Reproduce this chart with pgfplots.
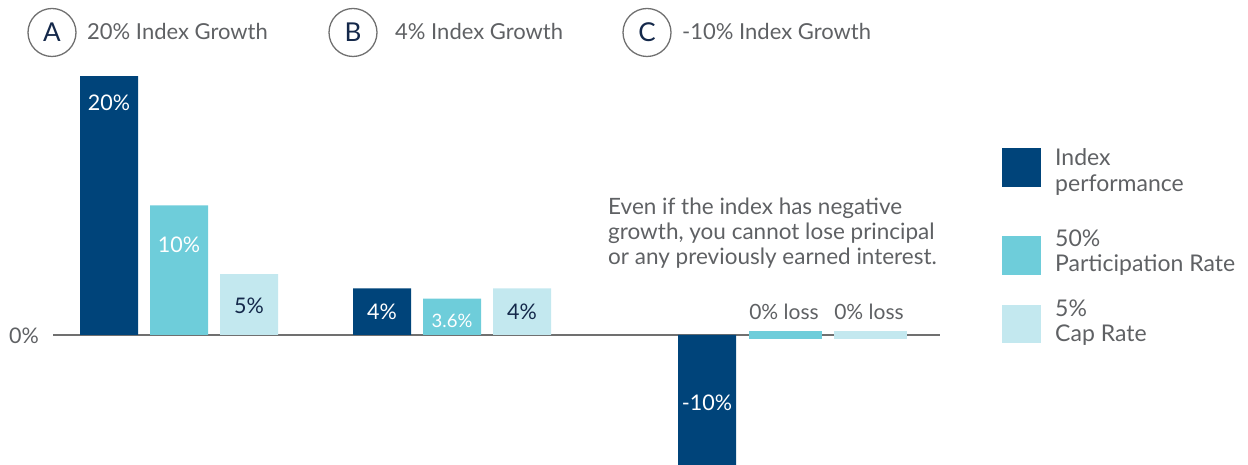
\documentclass[border=0pt]{standalone}
\usepackage{pgfplots}
\pgfplotsset{compat=1.18}
\usepackage{fontspec}
\setmainfont{Lato}
\definecolor{dk}{HTML}{00447A}
\definecolor{md}{HTML}{6ECDDA}
\definecolor{lt}{HTML}{C3E8EF}
\definecolor{txt}{HTML}{5F6164}
\definecolor{navy}{HTML}{14284A}
\definecolor{axgray}{HTML}{707070}
\newcommand{\fs}[1]{\fontsize{#1}{#1}\selectfont}
\begin{document}
\begin{tikzpicture}
\useasboundingbox (0,0) rectangle (1248pt,465pt);
\begin{axis}[at={(0,0)}, anchor=south west,
  width=1248pt, height=465pt, scale only axis,
  xmin=0, xmax=1248, ymin=-10.04, ymax=25.87,
  axis lines=none, clip=true]
% zero line
\addplot[axgray, line width=2pt, forget plot] coordinates {(53,0) (940,0)};
% Index performance
\addplot[ybar, bar shift=0pt, bar width=58pt, fill=dk, draw=none] coordinates {(109,20) (382,3.6) (707,-10.04)};
% 50% participation
\addplot[ybar, bar shift=0pt, bar width=58pt, fill=md, draw=none] coordinates {(179,10) (452,2.8)};
\addplot[md, line width=8pt] coordinates {(749,0) (822,0)};
% 5% cap
\addplot[ybar, bar shift=0pt, bar width=58pt, fill=lt, draw=none] coordinates {(249,4.7) (522,3.6)};
\addplot[lt, line width=8pt] coordinates {(834,0) (907,0)};
\end{axis}
\begin{scope}[x=1pt, y=-1pt, yshift=465pt]
% bar labels
\node[white, font=\fs{21.5}] at (109,103) {20\%};
\node[white, font=\fs{21.5}] at (179,245) {10\%};
\node[navy, font=\fs{21.5}] at (249,306) {5\%};
\node[white, font=\fs{21.5}] at (382,312) {4\%};
\node[white, font=\fs{18.5}] at (452,321) {3.6\%};
\node[navy, font=\fs{21.5}] at (522,312) {4\%};
\node[white, font=\fs{21.5}] at (707,403) {-10\%};
\node[txt, font=\fs{21}] at (784,312) {0\% loss};
\node[txt, font=\fs{21}] at (869,312) {0\% loss};
\node[txt, font=\fs{21.5}] at (24,336) {0\%};
% annotation
\node[txt, font=\fs{22.5}, anchor=base west, inner sep=0pt] at (608,215) {Even if the index has negative};
\node[txt, font=\fs{22.5}, anchor=base west, inner sep=0pt] at (608,240) {growth, you cannot lose principal};
\node[txt, font=\fs{22.5}, anchor=base west, inner sep=0pt] at (608,265) {or any previously earned interest.};
% headers
\foreach \cx/\L/\T/\tx in {52/A/20\% Index Growth/87, 353/B/4\% Index Growth/395, 647/C/-10\% Index Growth/682}{
  \draw[axgray, line width=1.3pt] (\cx,32.5) circle (24pt);
  \node[navy, font=\fs{26}, anchor=base, inner sep=0pt] at (\cx,42) {\L};
  \node[txt, font=\fs{22}, anchor=base west, inner sep=0pt] at (\tx,39.5) {\T};
}
% legend
\fill[dk] (1002,148) rectangle (1041,187);
\fill[md] (1002,236) rectangle (1041,275);
\fill[lt] (1002,305) rectangle (1041,343);
\node[txt, font=\fs{23}, anchor=base west, inner sep=0pt] at (1055,166) {Index};
\node[txt, font=\fs{23}, anchor=base west, inner sep=0pt] at (1055,192) {performance};
\node[txt, font=\fs{23}, anchor=base west, inner sep=0pt] at (1055,247) {50\%};
\node[txt, font=\fs{23}, anchor=base west, inner sep=0pt] at (1055,272) {Participation Rate};
\node[txt, font=\fs{23}, anchor=base west, inner sep=0pt] at (1055,317) {5\%};
\node[txt, font=\fs{23}, anchor=base west, inner sep=0pt] at (1055,342) {Cap Rate};
\end{scope}
\end{tikzpicture}
\end{document}
